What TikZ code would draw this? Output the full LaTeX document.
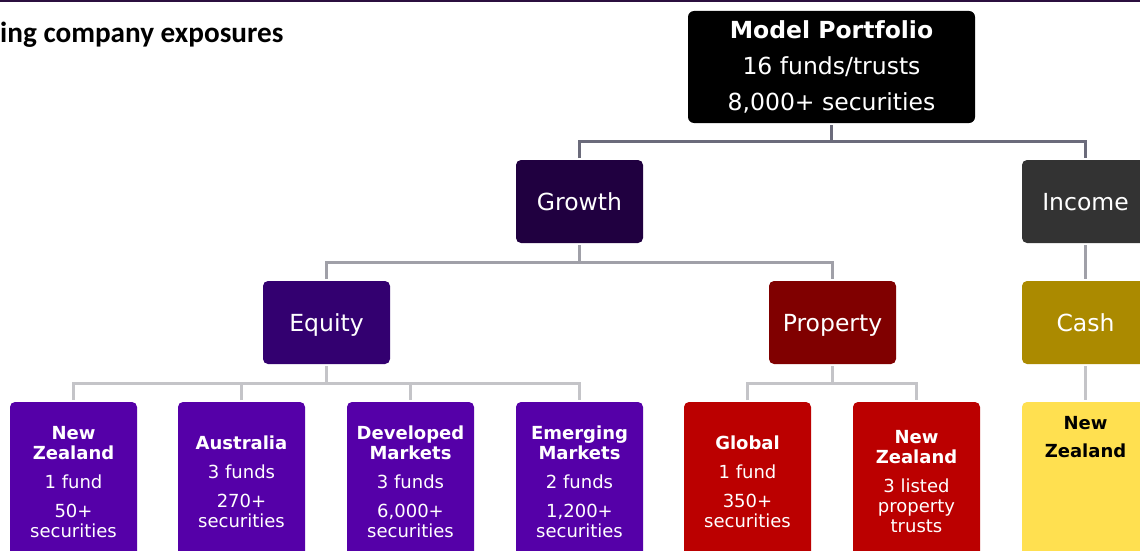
\documentclass[tikz,border=0pt]{standalone}
\usepackage{fontspec}
\setmainfont{DejaVu Sans}
\newfontfamily\titlefont{Carlito}
\definecolor{topbar}{HTML}{2B0F3F}
\definecolor{cmp}{HTML}{000000}
\definecolor{cgrowth}{HTML}{200040}
\definecolor{cincome}{HTML}{333333}
\definecolor{cequity}{HTML}{330070}
\definecolor{cproperty}{HTML}{800000}
\definecolor{ccash}{HTML}{AB8A00}
\definecolor{cleafeq}{HTML}{5500A8}
\definecolor{cleafpr}{HTML}{BB0000}
\definecolor{cleafca}{HTML}{FFE050}
\definecolor{lineA}{HTML}{6B6B7B}
\definecolor{lineB}{HTML}{A0A0A8}
\definecolor{lineC}{HTML}{C4C4C8}
\tikzset{
  box/.style={rounded corners=5pt, minimum width=127pt, inner sep=0pt, outer sep=2pt, text=white, align=center},
  lvl/.style={box, minimum height=83pt, text height=21pt, text depth=4pt, font=\fontsize{23.5}{28}\selectfont},
  leaf/.style={box, minimum height=160pt, font=\fontsize{18}{20}\selectfont},
  conA/.style={draw=lineA, line width=2.5pt},
  conB/.style={draw=lineB, line width=2.5pt},
  conC/.style={draw=lineC, line width=2.5pt},
}
\begin{document}
\begin{tikzpicture}[x=1pt,y=-1pt]
\useasboundingbox (0,0) rectangle (1140,551);
\clip (0,0) rectangle (1140,551);
\fill[white] (0,0) rectangle (1140,551);
\fill[topbar] (0,0) rectangle (1140,2.5);
\node[anchor=base west, inner sep=0pt, font=\titlefont\bfseries\fontsize{29.2}{32}\selectfont] (title) at (0,43) {ing company exposures};
% level 0
\node[box, fill=cmp, minimum width=287pt, minimum height=112pt, rounded corners=6pt, font=\fontsize{23.5}{36}\selectfont] (mp) at (831.5,67) {{\bfseries Model Portfolio}\\16 funds/trusts\\8,000+ securities};
% level 1
\node[lvl, fill=cgrowth] (growth) at (579.5,201.5) {Growth};
\node[lvl, fill=cincome] (income) at (1085.5,201.5) {Income};
% level 2
\node[lvl, fill=cequity] (equity) at (326.5,322.5) {Equity};
\node[lvl, fill=cproperty] (property) at (832.5,322.5) {Property};
\node[lvl, fill=ccash] (cash) at (1085.5,322.5) {Cash};
% leaves
\node[leaf, fill=cleafeq] (nzeq) at (73.5,482) {{\bfseries New}\\{\bfseries Zealand}\\[9pt]1 fund\\[9pt]50+\\securities};
\node[leaf, fill=cleafeq] (aus) at (241.5,482) {{\bfseries Australia}\\[9pt]3 funds\\[9pt]270+\\securities};
\node[leaf, fill=cleafeq] (dev) at (410.5,482) {{\bfseries Developed}\\{\bfseries Markets}\\[9pt]3 funds\\[9pt]6,000+\\securities};
\node[leaf, fill=cleafeq] (emg) at (579.5,482) {{\bfseries Emerging}\\{\bfseries Markets}\\[9pt]2 funds\\[9pt]1,200+\\securities};
\node[leaf, fill=cleafpr] (glob) at (747.5,482) {{\bfseries Global}\\[9pt]1 fund\\[9pt]350+\\securities};
\node[leaf, fill=cleafpr] (nzpr) at (916.5,482) {{\bfseries New}\\{\bfseries Zealand}\\[9pt]3 listed\\property\\trusts};
\node[leaf, fill=cleafca] (nzca) at (1085.5,482) {};
\node[inner sep=0pt, align=center, text=black, font=\bfseries\fontsize{18}{28}\selectfont] (nzcatext) at (1085.5,437) {New\\Zealand};
% buses
\coordinate (bus1) at (0,141.5);
\coordinate (bus2) at (0,262.5);
\coordinate (bus3) at (0,383.5);
% connectors level 0 -> 1
\draw[conA] (mp.south) -- (mp.south |- bus1);
\draw[conA] (growth.north) -- (growth.north |- bus1) -- (income.north |- bus1) -- (income.north);
% growth -> equity/property
\draw[conB] (growth.south) -- (growth.south |- bus2);
\draw[conB] (equity.north) -- (equity.north |- bus2) -- (property.north |- bus2) -- (property.north);
% income -> cash
\draw[conB] (income.south) -- (cash.north);
% equity -> leaves
\draw[conC] (equity.south) -- (equity.south |- bus3);
\draw[conC] (nzeq.north) -- (nzeq.north |- bus3) -- (emg.north |- bus3) -- (emg.north);
\draw[conC] (aus.north) -- (aus.north |- bus3);
\draw[conC] (dev.north) -- (dev.north |- bus3);
% property -> leaves
\draw[conC] (property.south) -- (property.south |- bus3);
\draw[conC] (glob.north) -- (glob.north |- bus3) -- (nzpr.north |- bus3) -- (nzpr.north);
% cash -> leaf
\draw[conC] (cash.south) -- (nzca.north);
\end{tikzpicture}
\end{document}
